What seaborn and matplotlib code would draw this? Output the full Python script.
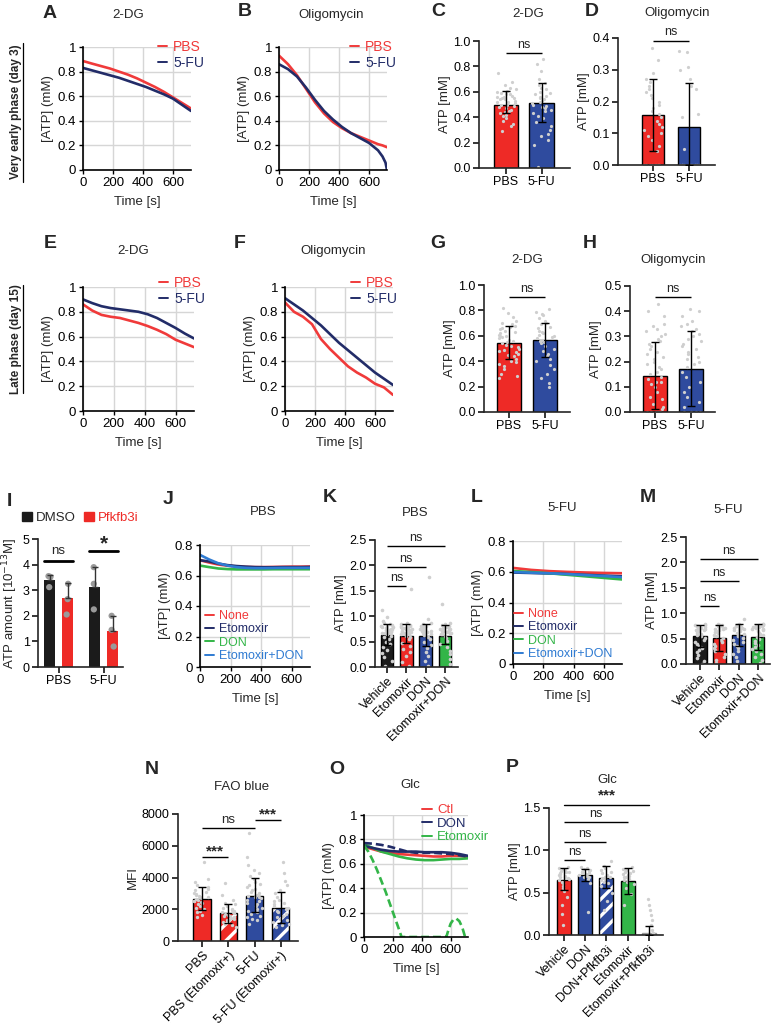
import numpy as np
import pandas as pd
import matplotlib
matplotlib.use("Agg")
import matplotlib.pyplot as plt
import seaborn as sns
from matplotlib.lines import Line2D
from matplotlib.patches import Patch, Rectangle

# ---------------- data ----------------
t13 = [0, 60, 120, 180, 240, 300, 360, 420, 480, 540, 600, 660, 720]

# A: 2-DG, day 3
A_pbs = [0.886, 0.865, 0.845, 0.825, 0.80, 0.775, 0.745, 0.71, 0.675, 0.635, 0.59, 0.545, 0.50]
A_5fu = [0.83, 0.81, 0.79, 0.77, 0.75, 0.725, 0.70, 0.675, 0.645, 0.615, 0.58, 0.53, 0.48]
# B: Oligomycin, day 3
B_time = [0, 60, 120, 180, 240, 300, 360, 420, 480, 540, 600, 660, 690, 710, 720]
B_pbs = [0.93, 0.86, 0.77, 0.66, 0.55, 0.46, 0.39, 0.34, 0.30, 0.27, 0.24, 0.21, 0.20, 0.19, 0.185]
B_5fu = [0.86, 0.82, 0.76, 0.67, 0.57, 0.48, 0.41, 0.35, 0.30, 0.26, 0.22, 0.16, 0.11, 0.06, 0.0]
# E: 2-DG, day 15
E_pbs = [0.86, 0.81, 0.775, 0.76, 0.75, 0.73, 0.71, 0.685, 0.655, 0.62, 0.575, 0.545, 0.515]
E_5fu = [0.90, 0.87, 0.845, 0.83, 0.82, 0.81, 0.80, 0.78, 0.75, 0.71, 0.67, 0.625, 0.585]
# F: Oligomycin, day 15
F_pbs = [0.875, 0.80, 0.76, 0.70, 0.58, 0.50, 0.43, 0.36, 0.31, 0.27, 0.22, 0.19, 0.13]
F_5fu = [0.91, 0.86, 0.81, 0.75, 0.69, 0.62, 0.55, 0.49, 0.43, 0.37, 0.31, 0.26, 0.21]

grp2 = ["PBS", "5-FU"]
# C
C_mean = [0.50, 0.51]; C_lo = [0.43, 0.36]; C_hi = [0.61, 0.67]
C_pbs_pts = [0.75, 0.68, 0.65, 0.63, 0.62, 0.61, 0.60, 0.60, 0.59, 0.58, 0.58, 0.57, 0.56, 0.56, 0.55,
             0.55, 0.54, 0.54, 0.53, 0.52, 0.52, 0.51, 0.50, 0.50, 0.49, 0.48, 0.47, 0.46, 0.45, 0.44,
             0.43, 0.42, 0.41, 0.39, 0.37, 0.35, 0.33, 0.29]
C_5fu_pts = [0.86, 0.82, 0.76, 0.70, 0.67, 0.65, 0.63, 0.62, 0.60, 0.59, 0.58, 0.57, 0.56, 0.55, 0.54,
             0.53, 0.52, 0.51, 0.50, 0.49, 0.48, 0.47, 0.46, 0.45, 0.43, 0.41, 0.39, 0.36, 0.33, 0.30,
             0.27, 0.25, 0.22, 0.18, 0.01]
# D
D_mean = [0.157, 0.12]; D_lo = [0.045, 0.0]; D_hi = [0.27, 0.257]
D_pbs_pts = [0.37, 0.33, 0.29, 0.27, 0.26, 0.25, 0.24, 0.23, 0.22, 0.21, 0.20, 0.19, 0.18, 0.17, 0.16,
             0.15, 0.14, 0.13, 0.12, 0.11, 0.10, 0.09, 0.08, 0.06, 0.045, 0.0, 0.0, 0.0, 0.0, 0.0,
             0.0, 0.0, 0.0, 0.0, 0.0]
D_5fu_pts = [0.36, 0.355, 0.31, 0.30, 0.27, 0.25, 0.24, 0.16, 0.15, 0.05, 0.0, 0.0, 0.0, 0.0, 0.0,
             0.0, 0.0, 0.0, 0.0, 0.0, 0.0, 0.0, 0.0, 0.0, 0.0]
# G
G_mean = [0.545, 0.565]; G_lo = [0.42, 0.43]; G_hi = [0.68, 0.70]
G_pbs_pts = [0.82, 0.78, 0.75, 0.72, 0.70, 0.69, 0.68, 0.67, 0.66, 0.65, 0.64, 0.63, 0.62, 0.61, 0.60,
             0.60, 0.59, 0.58, 0.57, 0.56, 0.55, 0.54, 0.53, 0.52, 0.51, 0.50, 0.49, 0.48, 0.47, 0.46,
             0.45, 0.44, 0.42, 0.40, 0.39, 0.38, 0.36, 0.34, 0.30, 0.28, 0.27]
G_5fu_pts = [0.81, 0.79, 0.77, 0.76, 0.74, 0.72, 0.70, 0.69, 0.67, 0.66, 0.64, 0.63, 0.62, 0.61, 0.60,
             0.59, 0.58, 0.57, 0.56, 0.55, 0.54, 0.52, 0.50, 0.48, 0.46, 0.44, 0.42, 0.40, 0.37, 0.34,
             0.30, 0.27, 0.23, 0.20]
# H
H_mean = [0.142, 0.17]; H_lo = [0.01, 0.022]; H_hi = [0.277, 0.32]
H_pbs_pts = [0.43, 0.40, 0.38, 0.35, 0.34, 0.33, 0.32, 0.31, 0.30, 0.29, 0.28, 0.27, 0.26, 0.25, 0.24,
             0.23, 0.22, 0.21, 0.20, 0.19, 0.18, 0.17, 0.16, 0.15, 0.14, 0.13, 0.12, 0.12, 0.11, 0.10,
             0.08, 0.06, 0.05, 0.03, 0.02, 0.01, 0.0, 0.0, 0.0, 0.0, 0.0]
H_5fu_pts = [0.41, 0.40, 0.38, 0.36, 0.35, 0.34, 0.33, 0.32, 0.31, 0.30, 0.29, 0.28, 0.27, 0.26, 0.25,
             0.24, 0.23, 0.22, 0.21, 0.20, 0.19, 0.18, 0.16, 0.14, 0.12, 0.10, 0.08, 0.06, 0.04, 0.02,
             0.0, 0.0, 0.0, 0.0]

# I
I_cond = ["PBS", "PBS", "5-FU", "5-FU"]
I_trt = ["DMSO", "Pfkfb3i", "DMSO", "Pfkfb3i"]
I_mean = [3.38, 2.70, 3.12, 1.40]
I_hi = [3.60, 3.27, 3.90, 2.00]
I_pts = [[3.55, 3.52, 3.12], [3.25, 2.65, 2.05], [3.90, 3.25, 2.25], [2.00, 1.45, 0.80]]

# J / L time courses
J_none = [0.70, 0.685, 0.672, 0.664, 0.659, 0.656, 0.655, 0.655, 0.656, 0.657, 0.658, 0.658, 0.659]
J_eto = [0.70, 0.692, 0.678, 0.668, 0.662, 0.658, 0.655, 0.654, 0.654, 0.655, 0.655, 0.655, 0.656]
J_don = [0.665, 0.655, 0.646, 0.642, 0.640, 0.640, 0.640, 0.640, 0.641, 0.641, 0.641, 0.641, 0.641]
J_etodon = [0.735, 0.705, 0.68, 0.665, 0.655, 0.65, 0.648, 0.648, 0.649, 0.65, 0.65, 0.65, 0.65]
L_time = [0, 120, 240, 360, 480, 600, 720]
L_none = [0.625, 0.612, 0.604, 0.599, 0.595, 0.592, 0.59]
L_eto = [0.595, 0.592, 0.589, 0.585, 0.58, 0.575, 0.57]
L_don = [0.605, 0.598, 0.59, 0.58, 0.57, 0.56, 0.55]
L_etodon = [0.598, 0.594, 0.59, 0.585, 0.578, 0.572, 0.565]

# K / M
grp4 = ["Vehicle", "Etomoxir", "DON", "Etomoxir+DON"]
K_mean = [0.63, 0.62, 0.61, 0.62]; K_lo = [0.43, 0.47, 0.41, 0.46]; K_hi = [0.84, 0.84, 0.84, 0.83]
K_pts = [
    [1.12, 0.98, 0.90, 0.86, 0.84, 0.82, 0.81, 0.80, 0.79, 0.78, 0.77, 0.76, 0.75, 0.74, 0.73, 0.72,
     0.71, 0.70, 0.69, 0.68, 0.67, 0.66, 0.65, 0.64, 0.62, 0.60, 0.56, 0.50, 0.45, 0.40, 0.34, 0.28,
     0.20, 0.12, 0.02],
    [1.53, 0.86, 0.84, 0.82, 0.81, 0.80, 0.79, 0.78, 0.77, 0.76, 0.75, 0.74, 0.73, 0.72, 0.71, 0.70,
     0.69, 0.68, 0.67, 0.66, 0.65, 0.64, 0.62, 0.60, 0.55, 0.48, 0.42, 0.35, 0.30, 0.22, 0.10, 0.02],
    [1.77, 0.95, 0.87, 0.84, 0.82, 0.81, 0.80, 0.79, 0.78, 0.77, 0.76, 0.75, 0.74, 0.73, 0.72, 0.71,
     0.70, 0.69, 0.68, 0.67, 0.66, 0.65, 0.63, 0.60, 0.56, 0.50, 0.44, 0.38, 0.30, 0.22, 0.12, 0.02],
    [1.24, 0.86, 0.84, 0.82, 0.81, 0.80, 0.79, 0.78, 0.77, 0.76, 0.75, 0.74, 0.73, 0.72, 0.71, 0.70,
     0.69, 0.68, 0.67, 0.66, 0.65, 0.64, 0.62, 0.58, 0.52, 0.46, 0.40, 0.32, 0.25, 0.15, 0.05],
]
M_mean = [0.55, 0.51, 0.57, 0.53]; M_lo = [0.33, 0.26, 0.36, 0.27]; M_hi = [0.77, 0.77, 0.78, 0.78]
M_pts = [
    [0.78, 0.77, 0.76, 0.75, 0.74, 0.73, 0.72, 0.71, 0.70, 0.69, 0.68, 0.67, 0.66, 0.65, 0.64, 0.62,
     0.60, 0.58, 0.55, 0.52, 0.48, 0.44, 0.40, 0.36, 0.32, 0.28, 0.24, 0.18, 0.12, 0.05, 0.0],
    [0.79, 0.77, 0.76, 0.75, 0.74, 0.72, 0.71, 0.70, 0.69, 0.68, 0.66, 0.65, 0.63, 0.61, 0.58, 0.55,
     0.52, 0.48, 0.44, 0.40, 0.36, 0.32, 0.28, 0.25, 0.20, 0.14, 0.08, 0.02],
    [0.88, 0.78, 0.77, 0.76, 0.75, 0.74, 0.73, 0.72, 0.71, 0.70, 0.69, 0.68, 0.67, 0.66, 0.64, 0.62,
     0.60, 0.58, 0.55, 0.52, 0.48, 0.44, 0.40, 0.36, 0.31, 0.26, 0.20, 0.14, 0.06],
    [0.79, 0.78, 0.77, 0.76, 0.75, 0.74, 0.73, 0.72, 0.70, 0.69, 0.68, 0.66, 0.64, 0.62, 0.60, 0.57,
     0.54, 0.50, 0.46, 0.42, 0.38, 0.34, 0.30, 0.26, 0.20, 0.14, 0.08, 0.02],
]

# N
N_grp = ["PBS", "PBS (Etomoxir+)", "5-FU", "5-FU (Etomoxir+)"]
N_mean = [2650, 1750, 2850, 2100]; N_lo = [1950, 1150, 1800, 1150]; N_hi = [3420, 2350, 3950, 3100]
N_pts = [
    [5000, 3900, 3700, 3500, 3400, 3300, 3200, 3100, 3000, 2950, 2900, 2850, 2800, 2750, 2700, 2650,
     2600, 2550, 2500, 2450, 2400, 2300, 2200, 2100, 2000, 1900, 1800, 1650, 1500],
    [3650, 2900, 2600, 2400, 2300, 2200, 2100, 2000, 1950, 1900, 1850, 1800, 1750, 1700, 1650, 1600,
     1550, 1500, 1450, 1400, 1350, 1300, 1200, 1100, 1000, 900],
    [6800, 5300, 4800, 4500, 4300, 4100, 3900, 3700, 3600, 3500, 3400, 3300, 3200, 3100, 3000, 2900,
     2850, 2800, 2750, 2700, 2600, 2500, 2400, 2300, 2200, 2100, 2000, 1900, 1800, 1700, 1600, 1500,
     1400, 1300, 1100],
    [5000, 4300, 3800, 3500, 3200, 3000, 2800, 2600, 2500, 2400, 2300, 2200, 2100, 2000, 1900, 1800,
     1700, 1600, 1500, 1400, 1300, 1200, 1100, 1000, 900],
]

# O: Glc time course
O_ctl = [0.74, 0.72, 0.70, 0.69, 0.68, 0.675, 0.67, 0.665, 0.66, 0.66, 0.665, 0.665, 0.655]
O_don = [0.745, 0.73, 0.715, 0.705, 0.70, 0.70, 0.70, 0.695, 0.695, 0.695, 0.69, 0.68, 0.665]
O_eto = [0.76, 0.73, 0.70, 0.68, 0.66, 0.645, 0.635, 0.63, 0.63, 0.635, 0.64, 0.64, 0.645]
O_don_pfk = [0.77, 0.765, 0.755, 0.74, 0.72, 0.70, 0.69, 0.69, 0.69, 0.685, 0.68, 0.67, 0.66]
O_ep_time = [0, 30, 60, 90, 120, 150, 180, 210, 240, 260, 570, 585, 600, 620, 640, 660, 680, 700, 720]
O_eto_pfk = [0.75, 0.70, 0.63, 0.55, 0.46, 0.37, 0.27, 0.17, 0.07, 0.0, 0.0, 0.06, 0.11, 0.145, 0.15,
             0.13, 0.08, 0.0, 0.0]

# P
P_grp = ["Vehicle", "DON", "DON+Pfkfb3i", "Etomoxir", "Etomoxir+Pfkfb3i"]
P_mean = [0.65, 0.71, 0.67, 0.64, 0.02]; P_lo = [0.53, 0.64, 0.55, 0.49, 0.0]; P_hi = [0.79, 0.78, 0.81, 0.79, 0.11]
P_pts = [
    [0.80, 0.79, 0.78, 0.77, 0.76, 0.75, 0.74, 0.73, 0.72, 0.71, 0.70, 0.69, 0.68, 0.67, 0.66, 0.65,
     0.63, 0.61, 0.58, 0.55, 0.52, 0.45, 0.35, 0.25, 0.12],
    [0.80, 0.79, 0.78, 0.77, 0.76, 0.75, 0.74, 0.73, 0.72, 0.71, 0.70, 0.69, 0.68, 0.66, 0.62, 0.27],
    [0.87, 0.81, 0.79, 0.77, 0.75, 0.73, 0.71, 0.70, 0.69, 0.68, 0.67, 0.66, 0.65, 0.63, 0.61, 0.58,
     0.50, 0.40, 0.30],
    [0.80, 0.78, 0.77, 0.76, 0.75, 0.73, 0.72, 0.71, 0.70, 0.69, 0.68, 0.67, 0.66, 0.65, 0.63, 0.60,
     0.55, 0.48, 0.35],
    [0.43, 0.36, 0.30, 0.24, 0.18, 0.12, 0.06, 0.02, 0.0, 0.0, 0.0],
]

# ---------------- style ----------------
sns.set_style("ticks")
plt.rcParams["font.family"] = ["Liberation Sans", "DejaVu Sans"]
plt.rcParams["hatch.linewidth"] = 2.4
np.random.seed(7)

RED = "#EE2A26"
BLUE = "#2F4B9E"
GREEN = "#33B548"
BLACK = "#1b1b1b"
LRED = "#F03A3A"
NAVY = "#222C68"
LBLUE = "#2F7BD2"
PT = "#CFCFCF"

W, H = 772, 1025
fig = plt.figure(figsize=(W / 100, H / 100), dpi=100)


def pax(l, t, r, b):
    return fig.add_axes([l / W, 1 - b / H, (r - l) / W, (b - t) / H])


def ftext(x, y, s, **kw):
    fig.text(x / W, 1 - y / H, s, **kw)


def letter(x, y, s):
    ftext(x, y, s, fontsize=14, fontweight="bold", ha="center", va="center")


def title(x, y, s, fs=9.5):
    ftext(x, y, s, fontsize=fs, ha="center", va="center")


def style_line(ax, ylim, yt, ytl, ylabel="[ATP] (mM)", fs=9.5):
    ax.set_xlim(0, 720)
    ax.set_ylim(*ylim)
    ax.set_xticks([0, 200, 400, 600])
    ax.set_xticklabels(["0", "200", "400", "600"])
    ax.set_yticks(yt)
    ax.set_yticklabels(ytl)
    ax.grid(True, color="#d6d6d6", lw=1.0)
    ax.set_axisbelow(True)
    for s in ["top", "right"]:
        ax.spines[s].set_visible(False)
    for s in ["left", "bottom"]:
        ax.spines[s].set_linewidth(1.2)
        ax.spines[s].set_color("black")
    ax.tick_params(labelsize=fs, length=3, width=1, pad=2, colors="black")
    ax.set_xlabel("Time [s]", fontsize=fs, labelpad=5)
    ax.set_ylabel(ylabel, fontsize=fs, labelpad=3)


def draw_lines(ax, series):
    for t, v, c, ls in series:
        sns.lineplot(x=t, y=v, color=c, lw=1.9, linestyle=ls, ax=ax, estimator=None, sort=False)


def line_legend(ax, entries, anchor, loc, fs=10, ls=0.15):
    handles = [Line2D([], [], color=c, lw=1.4) for c, _ in entries]
    leg = ax.legend(handles, [l for _, l in entries], loc=loc,
                    bbox_to_anchor=(anchor[0] / W, 1 - anchor[1] / H), bbox_transform=fig.transFigure,
                    frameon=False, fontsize=fs, handlelength=0.7, handletextpad=0.4,
                    labelspacing=ls, borderpad=0, borderaxespad=0)
    for txt, (c, _) in zip(leg.get_texts(), entries):
        txt.set_color(c)


def bar_panel(ax, cats, means, lo, hi, pts, colors, width, xlim, ylim, yt, yfmt, ylabel,
              rot=False, hatch_idx=(), fs=9, psize=2.3, jit=0.28):
    df = pd.DataFrame({"g": cats, "m": means})
    sns.barplot(data=df, x="g", y="m", hue="g", palette=colors, width=width, edgecolor="black",
                linewidth=1, ax=ax, legend=False, errorbar=None, zorder=1, saturation=1)
    long = pd.DataFrame({"g": np.repeat(cats, [len(p) for p in pts]), "v": np.concatenate(pts)})
    sns.stripplot(data=long, x="g", y="v", order=cats, color=PT, size=psize, jitter=jit,
                  ax=ax, zorder=2, linewidth=0)
    bars = sorted(ax.patches, key=lambda p: p.get_x())
    xs = np.array([p.get_x() + p.get_width() / 2 for p in bars])
    for i in hatch_idx:
        p = bars[i]
        p.set_hatch("//")
        p.set_edgecolor("white")
        p.set_linewidth(0)
        ax.add_patch(Rectangle((p.get_x(), 0), p.get_width(), p.get_height(), fill=False,
                               edgecolor="black", lw=1, zorder=1.5))
    m = np.array(means)
    ax.errorbar(xs, m, yerr=[m - np.array(lo), np.array(hi) - m], fmt="none", ecolor="black",
                elinewidth=1, capsize=3, capthick=1, zorder=4)
    ax.set_xlim(*xlim)
    ax.set_ylim(*ylim)
    ax.set_yticks(yt)
    ax.set_yticklabels([yfmt.format(v) for v in yt])
    sns.despine(ax=ax)
    for s in ["left", "bottom"]:
        ax.spines[s].set_linewidth(1.2)
    ax.tick_params(labelsize=fs, length=4, width=1.1, pad=2, colors="black")
    ax.set_xlabel("")
    ax.set_ylabel(ylabel, fontsize=fs + 0.5, labelpad=2)
    if rot:
        ax.set_xticks(range(len(cats)))
        ax.set_xticklabels(cats, rotation=45, ha="right", rotation_mode="anchor")
    return bars, xs


def bracket(ax, x1, x2, y, txt, fs=9, lw=1.0, dy=1.5, weight="normal"):
    ax.plot([x1, x2], [y, y], color="black", lw=lw, clip_on=False, solid_capstyle="butt")
    ax.annotate(txt, xy=((x1 + x2) / 2, y), xytext=(0, dy), textcoords="offset points",
                ha="center", va="bottom", fontsize=fs, fontweight=weight, annotation_clip=False)


yt01 = [0, 0.2, 0.4, 0.6, 0.8, 1.0]
ytl01 = ["0", "0.2", "0.4", "0.6", "0.8", "1"]

# ---------------- row 1 ----------------
axA = pax(83, 47, 191, 170)
draw_lines(axA, [(t13, A_pbs, LRED, "-"), (t13, A_5fu, NAVY, "-")])
style_line(axA, (0, 1), yt01, ytl01)
line_legend(axA, [(LRED, "PBS"), (NAVY, "5-FU")], (204, 40), "upper right")
letter(50, 13, "A"); title(128, 15, "2-DG")

axB = pax(279, 47, 387, 170)
draw_lines(axB, [(B_time, B_pbs, LRED, "-"), (B_time, B_5fu, NAVY, "-")])
style_line(axB, (0, 1), yt01, ytl01)
line_legend(axB, [(LRED, "PBS"), (NAVY, "5-FU")], (396, 40), "upper right")
letter(245, 12, "B"); title(331, 15, "Oligomycin")

axC = pax(479, 41, 570, 168)
_, xs = bar_panel(axC, grp2, C_mean, C_lo, C_hi, [C_pbs_pts, C_5fu_pts], [RED, BLUE], 0.68,
                  (-0.76, 1.80), (0, 1.0), [0, 0.2, 0.4, 0.6, 0.8, 1.0], "{:.1f}", "ATP [mM]")
bracket(axC, xs[0], xs[1], 0.905, "ns")
letter(438, 12, "C"); title(528, 14, "2-DG")

axD = pax(618, 38, 715, 165)
_, xs = bar_panel(axD, grp2, D_mean, D_lo, D_hi, [D_pbs_pts, D_5fu_pts], [RED, BLUE], 0.62,
                  (-0.97, 1.72), (0, 0.4), [0, 0.1, 0.2, 0.3, 0.4], "{:.1f}", "ATP [mM]")
bracket(axD, xs[0], xs[1], 0.392, "ns")
letter(592, 12, "D"); title(677, 13, "Oligomycin")

# side labels
ftext(16, 112, "Very early phase (day 3)", rotation=90, fontsize=8.5, fontweight="bold",
      ha="center", va="center")
fig.add_artist(Line2D([23 / W, 23 / W], [1 - 43 / H, 1 - 182 / H], color="black", lw=0.9))
ftext(16, 339, "Late phase (day 15)", rotation=90, fontsize=8.5, fontweight="bold",
      ha="center", va="center")
fig.add_artist(Line2D([23 / W, 23 / W], [1 - 285 / H, 1 - 393 / H], color="black", lw=0.9))

# ---------------- row 2 ----------------
axE = pax(83, 287, 194, 411)
draw_lines(axE, [(t13, E_pbs, LRED, "-"), (t13, E_5fu, NAVY, "-")])
style_line(axE, (0, 1), yt01, ytl01)
line_legend(axE, [(LRED, "PBS"), (NAVY, "5-FU")], (205, 276), "upper right")
letter(50, 243, "E"); title(133, 251, "2-DG")

axF = pax(285, 287, 393, 411)
draw_lines(axF, [(t13, F_pbs, LRED, "-"), (t13, F_5fu, NAVY, "-")])
style_line(axF, (0, 1), yt01, ytl01)
line_legend(axF, [(LRED, "PBS"), (NAVY, "5-FU")], (397, 276), "upper right")
letter(240, 243, "F"); title(333, 251, "Oligomycin")

axG = pax(484, 285, 570, 412)
_, xs = bar_panel(axG, grp2, G_mean, G_lo, G_hi, [G_pbs_pts, G_5fu_pts], [RED, BLUE], 0.67,
                  (-0.69, 1.69), (0, 1.0), [0, 0.2, 0.4, 0.6, 0.8, 1.0], "{:.1f}", "ATP [mM]")
bracket(axG, xs[0], xs[1], 0.905, "ns")
letter(438, 243, "G"); title(527, 260, "2-DG")

axH = pax(630, 286, 715, 412)
_, xs = bar_panel(axH, grp2, H_mean, H_lo, H_hi, [H_pbs_pts, H_5fu_pts], [RED, BLUE], 0.67,
                  (-0.69, 1.67), (0, 0.5), [0, 0.1, 0.2, 0.3, 0.4, 0.5], "{:.1f}", "ATP [mM]")
bracket(axH, xs[0], xs[1], 0.456, "ns")
letter(590, 243, "H"); title(673, 260, "Oligomycin")

# ---------------- row 3 ----------------
axI = pax(38, 539, 123, 667)
dfI = pd.DataFrame({"cond": I_cond, "trt": I_trt, "v": I_mean})
sns.barplot(data=dfI, x="cond", y="v", hue="trt", order=grp2, hue_order=["DMSO", "Pfkfb3i"],
            palette=[BLACK, RED], width=0.8, gap=0.42, errorbar=None, legend=False, ax=axI,
            edgecolor="none", zorder=1, saturation=1)
ptsI = pd.DataFrame({"cond": np.repeat(I_cond, 3), "trt": np.repeat(I_trt, 3),
                     "v": np.concatenate(I_pts)})
sns.stripplot(data=ptsI, x="cond", y="v", hue="trt", order=grp2, hue_order=["DMSO", "Pfkfb3i"],
              palette=["#9a9a9a", "#9a9a9a"], dodge=True, jitter=0.05, size=4.5, legend=False,
              ax=axI, zorder=3, linewidth=0)
barsI = sorted(axI.patches, key=lambda p: p.get_x())
xsI = np.array([p.get_x() + p.get_width() / 2 for p in barsI])
mI = np.array(I_mean)
axI.errorbar(xsI, mI, yerr=[np.zeros(4), np.array(I_hi) - mI], fmt="none", ecolor="#333333",
             elinewidth=1, capsize=2.5, capthick=1, zorder=4)
axI.set_xlim(-0.456, 1.43)
axI.set_ylim(0, 5)
axI.set_yticks([0, 1, 2, 3, 4, 5])
sns.despine(ax=axI)
for s in ["left", "bottom"]:
    axI.spines[s].set_linewidth(1.2)
axI.tick_params(labelsize=9, length=4, width=1.1, pad=2, colors="black")
axI.set_xlabel("")
axI.set_ylabel("ATP amount [10$^{-13}$M]", fontsize=9.5, labelpad=2)
hw = barsI[0].get_width() / 2
axI.plot([xsI[0] - hw, xsI[1] + hw], [4.15, 4.15], color="black", lw=2, clip_on=False)
axI.text((xsI[0] + xsI[1]) / 2, 4.3, "ns", ha="center", va="bottom", fontsize=9.5)
axI.plot([xsI[2] - hw, xsI[3] + hw], [4.55, 4.55], color="black", lw=2, clip_on=False)
axI.text((xsI[2] + xsI[3]) / 2, 4.45, "*", ha="center", va="bottom", fontsize=15,
         fontweight="bold", clip_on=False)
legI = axI.legend([Patch(color=BLACK), Patch(color=RED)], ["DMSO", "Pfkfb3i"], loc="center left",
                  bbox_to_anchor=(22 / W, 1 - 518 / H), bbox_transform=fig.transFigure, ncol=2,
                  frameon=False, fontsize=9.5, handlelength=0.75, handleheight=0.75,
                  handletextpad=0.3, columnspacing=0.6, borderpad=0, borderaxespad=0)
legI.get_texts()[1].set_color(RED)
letter(9, 502, "I")

J_entries = [(LRED, "None"), (NAVY, "Etomoxir"), (GREEN, "DON"), (LBLUE, "Etomoxir+DON")]
axJ = pax(200, 545, 310, 667)
draw_lines(axJ, [(t13, J_none, LRED, "-"), (t13, J_eto, NAVY, "-"), (t13, J_don, GREEN, "-"),
                 (t13, J_etodon, LBLUE, "-")])
style_line(axJ, (0, 0.8), [0, 0.2, 0.4, 0.6, 0.8], ["0", "0.2", "0.4", "0.6", "0.8"])
line_legend(axJ, J_entries, (205, 662), "lower left", fs=9, ls=0.1)
letter(168, 500, "J"); title(263, 512, "PBS")

axK = pax(375, 540, 458, 667)
_, xs = bar_panel(axK, grp4, K_mean, K_lo, K_hi, K_pts, [BLACK, RED, BLUE, GREEN], 0.65,
                  (-0.62, 3.68), (0, 2.5), [0, 0.5, 1.0, 1.5, 2.0, 2.5], "{:.1f}", "ATP [mM]",
                  rot=True, psize=2.6, jit=0.3)
bracket(axK, xs[0], xs[1], 1.6, "ns")
bracket(axK, xs[0], xs[2], 1.97, "ns")
bracket(axK, xs[0], xs[3], 2.39, "ns")
letter(330, 498, "K"); title(415, 513, "PBS")

axL = pax(513, 541, 622, 664)
draw_lines(axL, [(L_time, L_none, LRED, "-"), (L_time, L_eto, NAVY, "-"),
                 (L_time, L_don, GREEN, "-"), (L_time, L_etodon, LBLUE, "-")])
style_line(axL, (0, 0.8), [0, 0.2, 0.4, 0.6, 0.8], ["0", "0.2", "0.4", "0.6", "0.8"])
line_legend(axL, J_entries, (514, 660), "lower left", fs=9, ls=0.1)
letter(477, 497, "L"); title(562, 508, "5-FU")

axM = pax(686, 537, 770, 664)
_, xs = bar_panel(axM, grp4, M_mean, M_lo, M_hi, M_pts, [BLACK, RED, BLUE, GREEN], 0.68,
                  (-0.725, 3.63), (0, 2.5), [0, 0.5, 1.0, 1.5, 2.0, 2.5], "{:.1f}", "ATP [mM]",
                  rot=True, psize=2.6, jit=0.3)
bracket(axM, xs[0], xs[1], 1.14, "ns")
bracket(axM, xs[0], xs[2], 1.63, "ns")
bracket(axM, xs[0], xs[3], 2.07, "ns")
letter(648, 497, "M"); title(728, 510, "5-FU")

# ---------------- row 4 ----------------
axN = pax(178, 814, 298, 941)
_, xs = bar_panel(axN, N_grp, N_mean, N_lo, N_hi, N_pts, [RED, RED, BLUE, BLUE], 0.65,
                  (-0.91, 3.65), (0, 8000), [0, 2000, 4000, 6000, 8000], "{:.0f}", "MFI",
                  rot=True, hatch_idx=(1, 3), psize=2.4, jit=0.3)
bracket(axN, xs[0], xs[1], 5290, "***", fs=11, dy=-1, weight="bold")
bracket(axN, xs[0], xs[2], 7140, "ns", fs=9.5)
bracket(axN, xs[2], xs[3], 7620, "***", fs=11, dy=-1, weight="bold")
letter(152, 770, "N"); title(242, 787, "FAO blue")

axO = pax(364, 815, 468, 937)
draw_lines(axO, [(t13, O_ctl, LRED, "-"), (t13, O_eto, GREEN, "-"), (t13, O_don, NAVY, "-"),
                 (t13, O_don_pfk, NAVY, (0, (3, 1.5))), (O_ep_time, O_eto_pfk, GREEN, (0, (3, 1.5)))])
style_line(axO, (0, 1), yt01, ytl01)
line_legend(axO, [(LRED, "Ctl"), (NAVY, "DON"), (GREEN, "Etomoxir")], (489, 804), "upper right",
            fs=9.5, ls=0.1)
letter(337, 770, "O"); title(410, 785, "Glc")

axP = pax(549, 808, 663, 935)
barsP, xs = bar_panel(axP, P_grp, P_mean, P_lo, P_hi, P_pts, [RED, BLUE, BLUE, GREEN, "#dcdcdc"], 0.66,
                      (-0.71, 4.67), (0, 1.5), [0, 0.5, 1.0, 1.5], "{:.1f}", "ATP [mM]",
                      rot=True, hatch_idx=(2,), psize=2.4, jit=0.28)
barsP[4].set_edgecolor("#9a9a9a")
bracket(axP, xs[0], xs[1], 0.88, "ns")
bracket(axP, xs[0], xs[2], 1.10, "ns")
bracket(axP, xs[0], xs[3], 1.33, "ns")
axP.plot([xs[0], xs[4]], [1.535, 1.535], color="black", lw=1.0, clip_on=False)
letter(512, 768, "P"); title(607, 780, "Glc")
ftext(607, 795, "***", fontsize=11, fontweight="bold", ha="center", va="center")

fig.savefig("out.png", dpi=100)
